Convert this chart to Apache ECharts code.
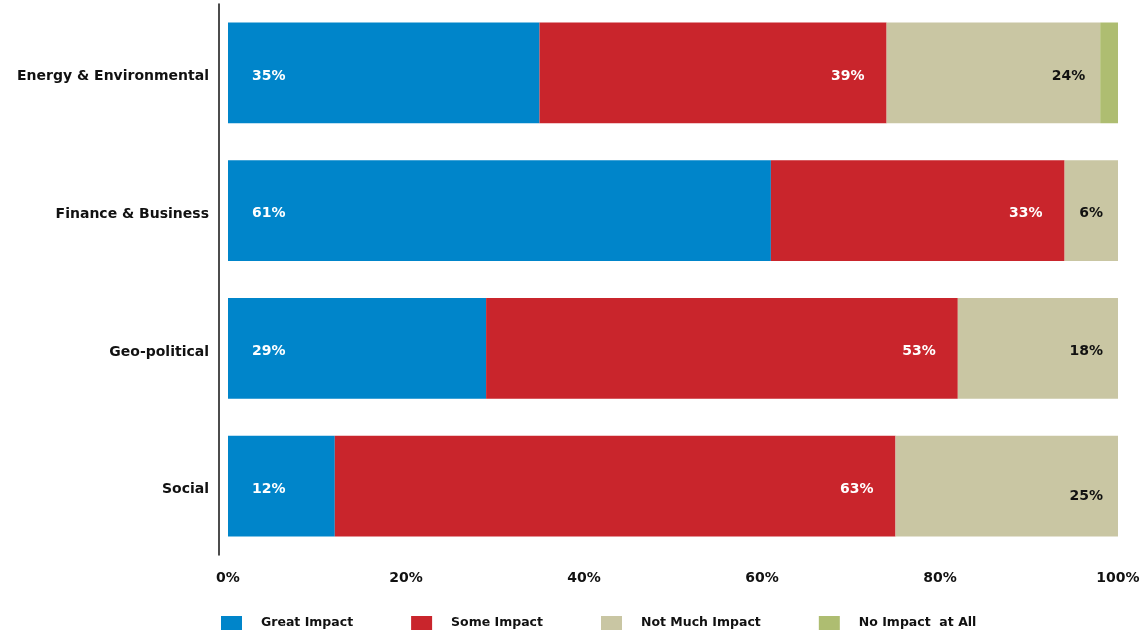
<!DOCTYPE html>
<html lang="en">
<head>
  <meta charset="UTF-8">
  <title>Impact by area</title>
  <script src="https://cdn.jsdelivr.net/npm/echarts@6/dist/echarts.min.js"></script>
</head>
<style>
  body { margin: 0; }
  #main { width: 1147px; height: 636px; }
</style>
<body>
  <div id="main"></div>

  <script>
    // categories, top to bottom
    var categories = ['Energy & Environmental', 'Finance & Business', 'Geo-political', 'Social'];
    var greatImpact = [35, 61, 29, 12];
    var someImpact = [39, 33, 53, 63];
    var notMuchImpact = [24, 6, 18, 25];
    var noImpact = [2, 0, 0, 0];
    var xTicks = [0, 20, 40, 60, 80, 100];

    var font = 'DejaVu Sans';
    var myChart = echarts.init(document.getElementById('main'));

    function lbl(pos, dist, color) {
      return {
        show: true,
        position: pos,
        distance: dist,
        offset: [0, 3],
        color: color,
        fontFamily: font,
        fontWeight: 'bold',
        fontSize: 14,
        formatter: function (p) { return p.value ? p.value + '%' : ''; }
      };
    }

    // the last beige label sits a bit lower in the original
    var notMuchData = notMuchImpact.map(function (v, i) {
      return i === 3 ? { value: v, label: { offset: [0, 10] } } : v;
    });

    option = {
      animation: false,
      grid: { left: 228, right: 29, top: 4, bottom: 81 },
      xAxis: {
        type: 'value',
        min: xTicks[0],
        max: xTicks[xTicks.length - 1],
        interval: 20,
        axisLine: { show: false },
        axisTick: { show: false },
        splitLine: { show: false },
        axisLabel: {
          margin: 16,
          color: '#111',
          fontFamily: font,
          fontWeight: 'bold',
          fontSize: 14,
          formatter: '{value}%'
        }
      },
      yAxis: {
        type: 'category',
        inverse: true,
        data: categories,
        offset: 9,
        axisLine: { show: true, onZero: false, lineStyle: { color: '#111', width: 1.5 } },
        axisTick: { show: false },
        axisLabel: {
          margin: 10,
          color: '#111',
          fontFamily: font,
          fontWeight: 'bold',
          fontSize: 14,
          formatter: '{c|{value}}',
          rich: { c: { padding: [7, 0, 0, 0], fontFamily: font, fontWeight: 'bold', fontSize: 14, color: '#111' } }
        }
      },
      legend: {
        top: 611,
        left: 216,
        itemWidth: 21,
        itemHeight: 14,
        itemGap: 58,
        icon: 'rect',
        textStyle: {
          color: '#111',
          fontFamily: font,
          fontWeight: 'bold',
          fontSize: 12.5,
          padding: [0, 0, 0, 14]
        },
        data: ['Great Impact', 'Some Impact', 'Not Much Impact', 'No Impact  at All']
      },
      series: [
        {
          name: 'Great Impact', type: 'bar', stack: 'all', barCategoryGap: '27%',
          itemStyle: { color: '#0085CA' },
          label: lbl('insideLeft', 24, '#fff'),
          data: greatImpact
        },
        {
          name: 'Some Impact', type: 'bar', stack: 'all',
          itemStyle: { color: '#C9252C' },
          label: lbl('insideRight', 22, '#fff'),
          data: someImpact
        },
        {
          name: 'Not Much Impact', type: 'bar', stack: 'all',
          itemStyle: { color: '#C9C6A3' },
          label: lbl('insideRight', 15, '#111'),
          data: notMuchData
        },
        {
          name: 'No Impact  at All', type: 'bar', stack: 'all',
          itemStyle: { color: '#AEBD71' },
          label: { show: false },
          data: noImpact
        }
      ]
    };

    myChart.setOption(option);
  </script>
</body>
</html>
